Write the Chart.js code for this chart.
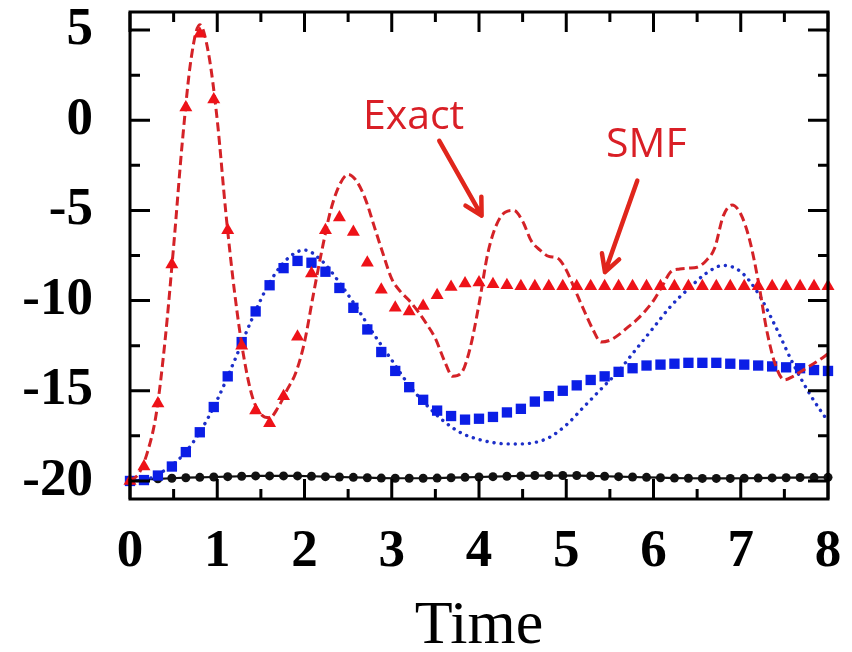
<!DOCTYPE html>
<html>
<head>
<meta charset="utf-8">
<script src="https://cdn.jsdelivr.net/npm/chart.js@4.4.1/dist/chart.umd.min.js"></script>
<style>
  html, body { margin: 0; padding: 0; background: #fff; }
  canvas { display: block; }
</style>
</head>
<body>
<canvas id="chartCanvas" width="852" height="652"></canvas>
<script>
"use strict";

// sampled on the coarse grid (markers)
const gridTimes = [0, 0.16, 0.32, 0.48, 0.64, 0.8, 0.96, 1.12, 1.28, 1.44, 1.6, 1.76, 1.92, 2.08, 2.24, 2.4, 2.56,
    2.72, 2.88, 3.04, 3.2, 3.36, 3.52, 3.68, 3.84, 4.0, 4.16, 4.32, 4.48, 4.64, 4.8, 4.96, 5.12, 5.28, 5.44, 5.6,
    5.76, 5.92, 6.08, 6.24, 6.4, 6.56, 6.72, 6.88, 7.04, 7.2, 7.36, 7.52, 7.68, 7.84, 8.0];

const smfRed = [-20, -19.2, -15.7, -8.0, 0.7, 4.8, 1.15, -6.1, -12.5, -16.1, -16.8, -15.3, -12.0, -8.5, -6.1, -5.4, -6.2,
    -7.9, -9.4, -10.4, -10.6, -10.3, -9.7, -9.25, -9.05, -9.0, -9.1, -9.15, -9.2, -9.2, -9.2, -9.2, -9.2, -9.2, -9.2, -9.2,
    -9.2, -9.2, -9.2, -9.2, -9.2, -9.2, -9.2, -9.2, -9.2, -9.2, -9.2, -9.2, -9.2, -9.2, -9.2];

const smfBlue = [-20, -19.95, -19.7, -19.2, -18.4, -17.3, -15.9, -14.2, -12.3, -10.6, -9.15, -8.2, -7.8, -7.9, -8.4, -9.3, -10.4,
    -11.6, -12.85, -13.9, -14.8, -15.5, -16.1, -16.4, -16.6, -16.55, -16.45, -16.2, -16.0, -15.6, -15.3, -15.0, -14.7, -14.4, -14.2, -13.95,
    -13.75, -13.6, -13.55, -13.5, -13.45, -13.45, -13.45, -13.5, -13.55, -13.6, -13.65, -13.7, -13.75, -13.85, -13.9];

const smfBlack = [-20, -19.92, -19.88, -19.85, -19.82, -19.8, -19.78, -19.76, -19.74, -19.72, -19.72, -19.72, -19.72, -19.74, -19.76, -19.78, -19.8,
    -19.82, -19.84, -19.85, -19.85, -19.85, -19.84, -19.82, -19.8, -19.78, -19.76, -19.74, -19.72, -19.7, -19.7, -19.7, -19.7, -19.72, -19.74, -19.76,
    -19.78, -19.8, -19.82, -19.84, -19.85, -19.86, -19.86, -19.86, -19.85, -19.84, -19.83, -19.82, -19.81, -19.8, -19.8];

// exact curves (lines)
const exactTimes = [0, 0.1, 0.2, 0.3, 0.4, 0.5, 0.6, 0.7, 0.8, 0.9, 1.0, 1.1, 1.2, 1.3, 1.4, 1.5, 1.6, 1.7, 1.8, 1.9,
    2.0, 2.1, 2.2, 2.3, 2.4, 2.5, 2.6, 2.7, 2.8, 2.9, 3.0, 3.1, 3.2, 3.3, 3.4, 3.5, 3.6, 3.7, 3.8, 3.9,
    4.0, 4.1, 4.2, 4.3, 4.4, 4.5, 4.6, 4.7, 4.8, 4.9, 5.0, 5.1, 5.2, 5.3, 5.4, 5.5, 5.6, 5.7, 5.8, 5.9,
    6.0, 6.1, 6.2, 6.3, 6.4, 6.5, 6.6, 6.7, 6.8, 6.9, 7.0, 7.1, 7.2, 7.3, 7.4, 7.5, 7.6, 7.7, 7.8, 7.9, 8.0];

const exactRed = [-20, -19.6, -18.4, -16.3, -12.3, -7.0, -1.2, 3.4, 5.3, 3.7, 0.0, -5.2, -9.6, -13.0, -15.3, -16.3, -16.5, -15.9, -14.95, -14.0,
    -12.3, -9.7, -7.2, -5.0, -3.6, -3.0, -3.4, -4.4, -5.9, -7.4, -8.8, -9.5, -10.0, -10.6, -11.3, -12.1, -13.3, -14.2, -14.0, -12.6,
    -10.2, -7.4, -5.8, -5.1, -5.0, -5.6, -6.7, -7.2, -7.55, -7.65, -8.3, -9.4, -10.5, -11.55, -12.3, -12.2, -11.9, -11.5, -11.1, -10.6,
    -10.0, -9.2, -8.4, -8.25, -8.2, -8.15, -7.8, -7.1, -5.3, -4.7, -5.2, -6.6, -8.9, -11.7, -13.6, -14.4, -14.2, -13.9, -13.6, -13.3, -12.95];

const dottedTimes = [0, 0.2, 0.4, 0.6, 0.8, 1.0, 1.2, 1.4, 1.6, 1.8, 2.0, 2.2, 2.4, 2.6, 2.8, 3.0, 3.2, 3.4, 3.6, 3.8,
    4.0, 4.2, 4.4, 4.6, 4.8, 5.0, 5.2, 5.4, 5.6, 5.8, 6.0, 6.2, 6.4, 6.6, 6.8, 7.0, 7.2, 7.4, 7.6, 7.8, 8.0];

const exactBlue = [-20, -19.9, -19.4, -18.6, -17.3, -15.5, -13.3, -11.0, -9.0, -7.7, -7.2, -7.8, -9.0, -10.4, -11.9, -13.3, -14.7, -15.8, -16.7, -17.35,
    -17.7, -17.9, -17.95, -17.9, -17.6, -16.9, -15.9, -14.9, -13.9, -12.7, -11.5, -10.3, -9.35, -8.5, -8.05, -8.4, -9.6, -11.45, -13.5, -15.25, -16.7];

// axes
const xTickLabels = [0, 1, 2, 3, 4, 5, 6, 7, 8];
const xMinorTicks = [0.5, 1.5, 2.5, 3.5, 4.5, 5.5, 6.5, 7.5];
const yTickLabels = [-20, -15, -10, -5, 0, 5];
const yMinorTicks = [-17.5, -12.5, -7.5, -2.5, 2.5];

// annotation texts and arrows, in data units
const noteTexts = ['Exact', 'SMF'];
const noteAnchors = [[2.67, -0.48], [5.456, -2.06]];
const arrowStarts = [[3.545, -1.14], [5.814, -3.35]];
const arrowTips = [[4.03, -5.29], [5.444, -8.42]];

const RED = '#d91f26';
const LINE_RED = '#d42227';
const TRI_RED = '#ee1218';
const BLUE = '#0b1ee6';

function pairs(xs, ys) {
    return xs.map((t, i) => ({ x: t, y: ys[i] }));
}

// the tick label padding must not push the chart area in
function noOverflow(scale) {
    scale.paddingLeft = 0;
    scale.paddingRight = 0;
    scale.paddingTop = 0;
    scale.paddingBottom = 0;
}

const frameTicks = {
    id: 'frameTicks',
    afterDatasetsDraw(chart) {
        const { ctx, chartArea: a, scales: { x, y } } = chart;
        ctx.save();
        ctx.strokeStyle = '#000';
        ctx.lineWidth = 3;
        ctx.beginPath();
        const xTick = (v, len) => {
            const px = x.getPixelForValue(v);
            ctx.moveTo(px, a.bottom); ctx.lineTo(px, a.bottom - len);
            ctx.moveTo(px, a.top); ctx.lineTo(px, a.top + len);
        };
        const yTick = (v, len) => {
            const py = y.getPixelForValue(v);
            ctx.moveTo(a.left, py); ctx.lineTo(a.left + len, py);
            ctx.moveTo(a.right, py); ctx.lineTo(a.right - len, py);
        };
        xTickLabels.forEach(v => xTick(v, 20));
        xMinorTicks.forEach(v => xTick(v, 10));
        yTickLabels.forEach(v => yTick(v, 20));
        yMinorTicks.forEach(v => yTick(v, 10));
        ctx.stroke();
        ctx.strokeRect(a.left, a.top, a.right - a.left, a.bottom - a.top);
        ctx.restore();
    }
};

const notes = {
    id: 'notes',
    afterDraw(chart) {
        const { ctx, scales: { x, y } } = chart;
        ctx.save();
        ctx.fillStyle = RED;
        ctx.strokeStyle = '#e0261c';
        ctx.font = '41px "Open Sans"';
        ctx.textBaseline = 'alphabetic';
        noteTexts.forEach((txt, i) => {
            ctx.fillText(txt, x.getPixelForValue(noteAnchors[i][0]), y.getPixelForValue(noteAnchors[i][1]));
        });
        ctx.lineWidth = 4.5;
        ctx.lineCap = 'round';
        ctx.lineJoin = 'round';
        arrowStarts.forEach((s, i) => {
            const x0 = x.getPixelForValue(s[0]), y0 = y.getPixelForValue(s[1]);
            const x1 = x.getPixelForValue(arrowTips[i][0]), y1 = y.getPixelForValue(arrowTips[i][1]);
            const ang = Math.atan2(y1 - y0, x1 - x0);
            const head = 19, spread = 0.5;
            ctx.beginPath();
            ctx.moveTo(x0, y0);
            ctx.lineTo(x1, y1);
            ctx.moveTo(x1 - head * Math.cos(ang - spread), y1 - head * Math.sin(ang - spread));
            ctx.lineTo(x1, y1);
            ctx.lineTo(x1 - head * Math.cos(ang + spread), y1 - head * Math.sin(ang + spread));
            ctx.stroke();
        });
        ctx.restore();
    }
};

const ctx = document.getElementById('chartCanvas').getContext('2d');
const plot = new Chart(ctx, {
    type: 'scatter',
    data: {
        datasets: [
            {
                label: 'SMF red',
                data: pairs(gridTimes, smfRed),
                showLine: false,
                pointStyle: 'triangle',
                pointRadius: 7.5,
                backgroundColor: TRI_RED,
                borderColor: TRI_RED,
                borderWidth: 0,
                clip: false,
                order: 1
            },
            {
                label: 'Exact red',
                data: pairs(exactTimes, exactRed),
                showLine: true,
                pointRadius: 0,
                borderColor: LINE_RED,
                borderWidth: 3,
                borderDash: [9, 4.5],
                cubicInterpolationMode: 'monotone',
                order: 2
            },
            {
                label: 'SMF blue',
                data: pairs(gridTimes, smfBlue),
                showLine: false,
                pointStyle: 'rect',
                pointRadius: 7.3,
                backgroundColor: BLUE,
                borderColor: BLUE,
                borderWidth: 0,
                clip: false,
                order: 3
            },
            {
                label: 'Exact blue',
                data: pairs(dottedTimes, exactBlue),
                showLine: true,
                pointRadius: 0,
                borderColor: '#1d2fc8',
                borderWidth: 3.4,
                borderDash: [0.1, 7],
                borderCapStyle: 'round',
                cubicInterpolationMode: 'monotone',
                order: 4
            },
            {
                label: 'Black',
                data: pairs(gridTimes, smfBlack),
                showLine: true,
                pointStyle: 'circle',
                pointRadius: 4.5,
                backgroundColor: '#111',
                borderColor: '#111',
                borderWidth: 2.2,
                pointBorderWidth: 0,
                clip: false,
                order: 5
            }
        ]
    },
    options: {
        responsive: false,
        animation: false,
        events: [],
        layout: { padding: { top: 12, right: 24, bottom: 0, left: 0 } },
        plugins: {
            legend: { display: false },
            tooltip: { enabled: false }
        },
        scales: {
            x: {
                type: 'linear',
                min: 0,
                max: 8,
                afterBuildTicks: (scale) => { scale.ticks = xTickLabels.map(v => ({ value: v })); },
                afterFit: (scale) => { scale.height = 153; noOverflow(scale); },
                grid: { display: false, drawTicks: false },
                border: { display: false },
                ticks: {
                    autoSkip: false,
                    maxRotation: 0,
                    padding: 27,
                    color: '#000',
                    font: { family: '"Liberation Serif", serif', size: 53, weight: 'bold', lineHeight: 1 }
                },
                title: {
                    display: true,
                    text: 'Time',
                    color: '#000',
                    padding: 0,
                    font: { family: '"Liberation Serif", serif', size: 62, lineHeight: 0.8 }
                }
            },
            y: {
                type: 'linear',
                min: -21,
                max: 6,
                afterBuildTicks: (scale) => { scale.ticks = yTickLabels.map(v => ({ value: v })); },
                afterFit: (scale) => { scale.width = 130; noOverflow(scale); },
                grid: { display: false, drawTicks: false },
                border: { display: false },
                ticks: {
                    autoSkip: false,
                    padding: 37,
                    color: '#000',
                    font: { family: '"Liberation Serif", serif', size: 53, weight: 'bold', lineHeight: 1 }
                }
            }
        }
    },
    plugins: [frameTicks, notes]
});
</script>
</body>
</html>
